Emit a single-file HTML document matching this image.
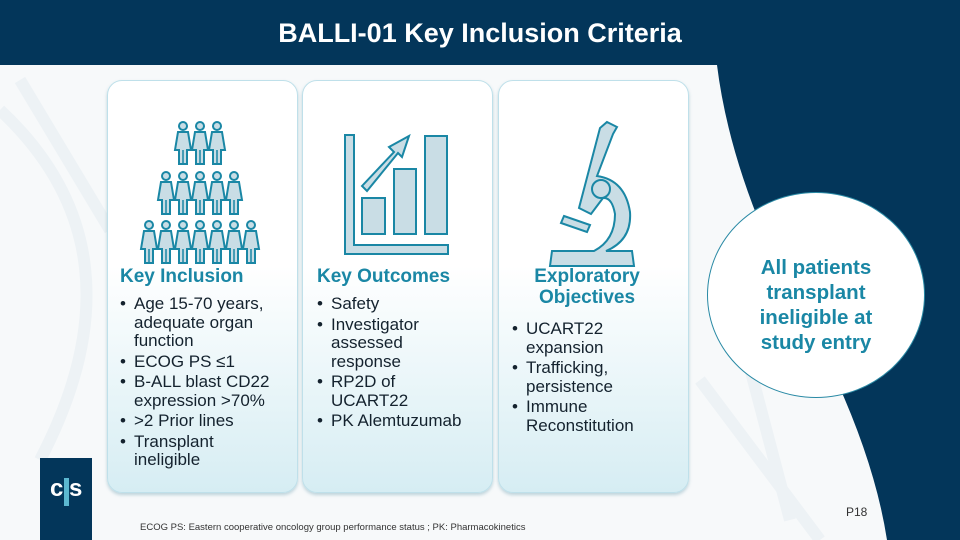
<!DOCTYPE html>
<html><head><meta charset="utf-8"><style>
*{margin:0;padding:0;box-sizing:border-box}
body{width:960px;height:540px;overflow:hidden;position:relative;background:#f7f9fa;font-family:"Liberation Sans",sans-serif}
.hdr{position:absolute;left:0;top:0;width:960px;height:65px;background:#03365a;color:#fff;font-weight:bold;font-size:27px;text-align:center;line-height:66px}
.card{position:absolute;top:80px;width:191px;height:413px;border-radius:15px;border:1px solid #bfe0ea;background:linear-gradient(#ffffff 0%,#ffffff 45%,#d6edf3 100%);box-shadow:0 2px 3px rgba(80,140,160,.35)}
.h{position:absolute;color:#1a87a5;font-weight:bold;font-size:19px;line-height:21px}
ul{position:absolute;list-style:none;color:#14222e;font-size:17px;line-height:18.5px}
li{position:relative;padding-left:14px;margin-bottom:2px}
li:before{content:"•";position:absolute;left:0}
.circ{position:absolute;left:707px;top:192px;width:218px;height:206px;border-radius:50%;background:radial-gradient(circle at 55% 50%,#fff 80%,#cfe9f0 100%);border:1.5px solid #2a8aa5;color:#1a87a5;font-weight:bold;font-size:20.5px;line-height:25px;text-align:center;padding-top:62px}
</style></head><body>
<svg width="960" height="540" style="position:absolute;left:0;top:0">
<g stroke="#edf2f5" stroke-width="12" fill="none">
<path d="M0 110 Q150 250 40 460"/><path d="M20 80 L110 230"/>
<path d="M700 380 Q760 460 820 540"/><path d="M740 330 L790 520"/>
</g>
<path d="M717 65 Q730 170 790 290 Q870 430 887 540 L960 540 L960 65 Z" fill="#03365a"/>
<rect x="40" y="458" width="52" height="82" fill="#03365a"/>
<text x="50" y="496" fill="#fff" font-family="Liberation Sans" font-weight="bold" font-size="24">c</text>
<rect x="64" y="478" width="5" height="28" fill="#5cb8d0"/>
<text x="69" y="496" fill="#fff" font-family="Liberation Sans" font-weight="bold" font-size="24">s</text>
</svg>
<div class="hdr">BALLI-01 Key Inclusion Criteria</div>
<div class="card" style="left:107px"></div>
<div class="card" style="left:302px"></div>
<div class="card" style="left:498px"></div>
<svg width="960" height="540" style="position:absolute;left:0;top:0">
<defs><g id="p"><circle cx="0" cy="-16" r="4" fill="#c9dde5" stroke="#1a87a5" stroke-width="2"/><path d="M-5 -10 L5 -10 L8 8 L4 8 L4 22 L-4 22 L-4 8 L-8 8 Z" fill="#c9dde5" stroke="#1a87a5" stroke-width="2"/><line x1="0" y1="8" x2="0" y2="22" stroke="#1a87a5" stroke-width="1.5"/></g></defs>
<g>
<use href="#p" x="183" y="142"/><use href="#p" x="200" y="142"/><use href="#p" x="217" y="142"/>
<use href="#p" x="166" y="192"/><use href="#p" x="183" y="192"/><use href="#p" x="200" y="192"/><use href="#p" x="217" y="192"/><use href="#p" x="234" y="192"/>
<use href="#p" x="149" y="241"/><use href="#p" x="166" y="241"/><use href="#p" x="183" y="241"/><use href="#p" x="200" y="241"/><use href="#p" x="217" y="241"/><use href="#p" x="234" y="241"/><use href="#p" x="251" y="241"/>
</g>
<g fill="#c9dde5" stroke="#1a87a5" stroke-width="2">
<path d="M345 135 L354 135 L354 245 L448 245 L448 254 L345 254 Z"/>
<rect x="362" y="198" width="23" height="36"/>
<rect x="394" y="169" width="22" height="65"/>
<rect x="425" y="136" width="22" height="98"/>
<path d="M362 186 L394 152 L389 147 L409 136 L402 157 L398 153 L367 191 Z"/>
<path d="M607 122 L617 127 L613 134 L597 176 Q625 180 630 212 Q632 240 606 251 L632 251 L634 266 L550 266 L552 251 L594 251 Q615 240 615 214 Q612 197 603 198 L591 214 L579 208 L600 128 Z"/>
<circle cx="601" cy="189" r="9"/>
<path d="M564 216 L590 225 L587 232 L561 223 Z"/>
</g>
</svg>
<div class="h" style="left:120px;top:266px">Key Inclusion</div>
<ul style="left:120px;top:295px;width:168px">
<li>Age 15-70 years, adequate organ function</li><li>ECOG PS ≤1</li><li>B-ALL blast CD22 expression &gt;70%</li><li>&gt;2 Prior lines</li><li>Transplant<br>ineligible</li></ul>
<div class="h" style="left:317px;top:266px">Key Outcomes</div>
<ul style="left:317px;top:295px;width:160px">
<li>Safety</li><li>Investigator assessed response</li><li>RP2D of UCART22</li><li>PK Alemtuzumab</li></ul>
<div class="h" style="left:527px;top:266px;text-align:center;width:120px">Exploratory Objectives</div>
<ul style="left:512px;top:320px;width:170px">
<li>UCART22 expansion</li><li>Trafficking, persistence</li><li>Immune Reconstitution</li></ul>
<div class="circ">All patients<br>transplant<br>ineligible at<br>study entry</div>
<div style="position:absolute;left:846px;top:505px;font-size:12px;color:#333">P18</div>
<div style="position:absolute;left:140px;top:522px;font-size:9.5px;color:#333">ECOG PS: Eastern cooperative oncology group performance status ; PK: Pharmacokinetics</div>
</body></html>
